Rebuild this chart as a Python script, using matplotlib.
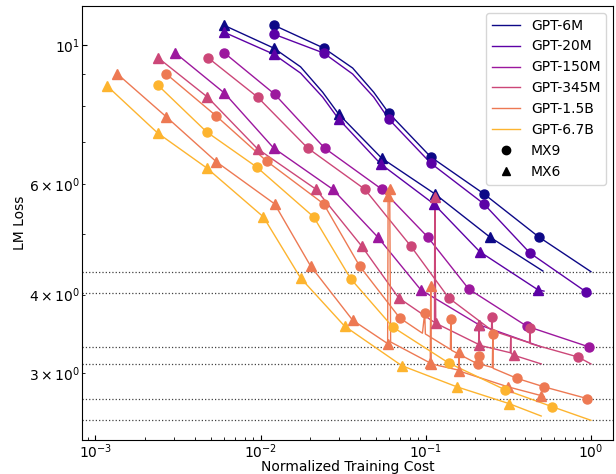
import numpy as np
import matplotlib
matplotlib.use("Agg")
import matplotlib.pyplot as plt
from matplotlib.lines import Line2D

models = ["GPT-6M", "GPT-20M", "GPT-150M", "GPT-345M", "GPT-1.5B", "GPT-6.7B"]
formats = ["MX9", "MX6"]
format_markers = {"MX9": "o", "MX6": "^"}

# final loss of each model (horizontal dotted reference lines)
final_loss = [4.35, 4.02, 3.30, 3.10, 2.73, 2.52]

# ---------------- GPT-6M ----------------
cost_6m_mx9 = [0.0120, 0.0241, 0.0361, 0.0484, 0.0597, 0.1072, 0.2248, 0.4842, 1.0]
loss_6m_mx9 = [10.76, 9.89, 9.19, 8.41, 7.79, 6.63, 5.79, 4.94, 4.35]
mcost_6m_mx9 = [0.0120, 0.0241, 0.0597, 0.1072, 0.2248, 0.4842]
mloss_6m_mx9 = [10.76, 9.89, 7.79, 6.63, 5.79, 4.94]

cost_6m_mx6 = [0.00597, 0.0120, 0.01747, 0.02376, 0.0297, 0.0541, 0.1134, 0.2443, 0.512]
loss_6m_mx6 = [10.76, 9.89, 9.23, 8.41, 7.76, 6.60, 5.79, 4.94, 4.36]
mcost_6m_mx6 = [0.00597, 0.0120, 0.0297, 0.0541, 0.1134, 0.2443]
mloss_6m_mx6 = [10.76, 9.89, 7.76, 6.60, 5.79, 4.94]

# ---------------- GPT-20M ----------------
cost_20m_mx9 = [0.0120, 0.0241, 0.0361, 0.0484, 0.0597, 0.1072, 0.2248, 0.4267, 0.933, 1.0]
loss_20m_mx9 = [10.41, 9.71, 8.99, 8.26, 7.62, 6.48, 5.58, 4.66, 4.04, 4.01]
mcost_20m_mx9 = [0.0120, 0.0241, 0.0597, 0.1072, 0.2248, 0.4267, 0.933]
mloss_20m_mx9 = [10.41, 9.71, 7.62, 6.48, 5.58, 4.66, 4.04]

cost_20m_mx6 = [0.00597, 0.0120, 0.01747, 0.02376, 0.0297, 0.0534, 0.1118, 0.2125, 0.4775, 0.52]
loss_20m_mx6 = [10.49, 9.67, 9.02, 8.26, 7.62, 6.46, 5.58, 4.68, 4.07, 4.05]
mcost_20m_mx6 = [0.00597, 0.0120, 0.0297, 0.0534, 0.1118, 0.2125, 0.4775]
mloss_20m_mx6 = [10.49, 9.67, 7.62, 6.46, 5.58, 4.68, 4.07]

# ---------------- GPT-150M ----------------
cost_150m_mx9 = [0.00605, 0.01216, 0.0244, 0.0541, 0.1028, 0.1823, 0.4093, 0.972, 1.0]
loss_150m_mx9 = [9.71, 8.35, 6.85, 5.89, 4.94, 4.08, 3.56, 3.30, 3.29]
mcost_150m_mx9 = [0.00605, 0.01216, 0.0244, 0.0541, 0.1028, 0.1823, 0.4093, 0.972]
mloss_150m_mx9 = [9.71, 8.35, 6.85, 5.89, 4.94, 4.08, 3.56, 3.30]

cost_150m_mx6 = [0.00305, 0.00605, 0.0120, 0.0273, 0.0512, 0.0933, 0.2096, 0.50]
loss_150m_mx6 = [9.71, 8.38, 6.85, 5.89, 4.94, 4.07, 3.58, 3.30]
mcost_150m_mx6 = [0.00305, 0.00605, 0.0120, 0.0273, 0.0512, 0.0933, 0.2096]
mloss_150m_mx6 = [9.71, 8.38, 6.85, 5.89, 4.94, 4.07, 3.58]

# ---------------- GPT-345M ----------------
cost_345m_mx9 = [0.00484, 0.00959, 0.01928, 0.0427, 0.0811, 0.1378, 0.250, 0.2512, 0.254,
                 0.425, 0.4267, 0.430, 0.834, 1.0]
loss_345m_mx9 = [9.53, 8.26, 6.85, 5.89, 4.78, 3.95, 3.51, 3.68, 3.50,
                 3.35, 3.54, 3.34, 3.18, 3.10]
mcost_345m_mx9 = [0.00484, 0.00959, 0.01928, 0.0427, 0.0811, 0.1378, 0.2512, 0.4267, 0.834]
mloss_345m_mx9 = [9.53, 8.26, 6.85, 5.89, 4.78, 3.95, 3.68, 3.54, 3.18]

cost_345m_mx6 = [0.00241, 0.00477, 0.00959, 0.0216, 0.0409, 0.0686, 0.1130, 0.1134, 0.1150,
                 0.2090, 0.2096, 0.2110, 0.325, 0.327, 0.329, 0.3415, 0.50]
loss_345m_mx6 = [9.53, 8.26, 6.83, 5.89, 4.78, 3.95, 3.61, 5.72, 3.60,
                 3.33, 3.58, 3.32, 3.23, 3.43, 3.22, 3.20, 3.10]
mcost_345m_mx6 = [0.00241, 0.00477, 0.00959, 0.0216, 0.0409, 0.0686, 0.1134, 0.1150, 0.2096, 0.2110, 0.3415]
mloss_345m_mx6 = [9.53, 8.26, 6.83, 5.89, 4.78, 3.95, 5.72, 3.60, 3.58, 3.32, 3.20]

# ---------------- GPT-1.5B ----------------
cost_1p5b_mx9 = [0.00269, 0.00541, 0.01087, 0.0241, 0.0398, 0.0696, 0.0955, 0.0986, 0.0995,
                 0.1410, 0.1418, 0.1430, 0.2060, 0.2096, 0.2110, 0.2530, 0.2547, 0.2560,
                 0.3562, 0.5188, 0.946, 1.0]
loss_1p5b_mx9 = [8.99, 7.70, 6.53, 5.58, 4.44, 3.67, 3.47, 3.74, 3.46,
                 3.27, 3.66, 3.26, 3.10, 3.19, 3.10, 3.06, 3.46, 3.05,
                 2.94, 2.85, 2.73, 2.73]
mcost_1p5b_mx9 = [0.00269, 0.00541, 0.01087, 0.0241, 0.0398, 0.0696, 0.0986, 0.1418, 0.2066,
                  0.2096, 0.2547, 0.3562, 0.5188, 0.946]
mloss_1p5b_mx9 = [8.99, 7.70, 6.53, 5.58, 4.44, 3.67, 3.74, 3.66, 3.10,
                  3.19, 3.46, 2.94, 2.85, 2.73]

cost_1p5b_mx6 = [0.00136, 0.00269, 0.00541, 0.01216, 0.0201, 0.0361, 0.0588, 0.0592, 0.0605,
                 0.0613, 0.1065, 0.1072, 0.1080, 0.1580, 0.1585, 0.1595, 0.3141, 0.4977, 0.52]
loss_1p5b_mx6 = [8.99, 7.68, 6.51, 5.58, 4.44, 3.64, 3.34, 5.74, 5.89,
                 3.36, 3.11, 4.13, 3.10, 3.03, 3.24, 3.02, 2.85, 2.76, 2.75]
mcost_1p5b_mx6 = [0.00136, 0.00269, 0.00541, 0.01216, 0.0201, 0.0361, 0.0588, 0.0592, 0.0605,
                  0.1065, 0.1072, 0.1080, 0.1585, 0.1595, 0.3141, 0.4977]
mloss_1p5b_mx6 = [8.99, 7.68, 6.51, 5.58, 4.44, 3.64, 3.34, 5.74, 5.89,
                  3.11, 4.13, 3.10, 3.24, 3.02, 2.85, 2.76]

# ---------------- GPT-6.7B ----------------
cost_6p7b_mx9 = [0.00238, 0.00471, 0.00946, 0.02095, 0.0351, 0.0631, 0.1378, 0.3013, 0.5807, 1.0]
loss_6p7b_mx9 = [8.64, 7.27, 6.39, 5.32, 4.24, 3.55, 3.11, 2.82, 2.65, 2.52]
mcost_6p7b_mx9 = [0.00238, 0.00471, 0.00946, 0.02095, 0.0351, 0.0631, 0.1378, 0.3013, 0.5807]
mloss_6p7b_mx9 = [8.64, 7.27, 6.39, 5.32, 4.24, 3.55, 3.11, 2.82, 2.65]

cost_6p7b_mx6 = [0.00118, 0.00238, 0.00471, 0.0104, 0.01747, 0.0323, 0.0716, 0.1542, 0.3185, 0.5]
loss_6p7b_mx6 = [8.60, 7.24, 6.37, 5.32, 4.25, 3.56, 3.08, 2.85, 2.68, 2.56]
mcost_6p7b_mx6 = [0.00118, 0.00238, 0.00471, 0.0104, 0.01747, 0.0323, 0.0716, 0.1542, 0.3185]
mloss_6p7b_mx6 = [8.60, 7.24, 6.37, 5.32, 4.25, 3.56, 3.08, 2.85, 2.68]

series = {
    ("GPT-6M", "MX9"): (cost_6m_mx9, loss_6m_mx9, mcost_6m_mx9, mloss_6m_mx9),
    ("GPT-6M", "MX6"): (cost_6m_mx6, loss_6m_mx6, mcost_6m_mx6, mloss_6m_mx6),
    ("GPT-20M", "MX9"): (cost_20m_mx9, loss_20m_mx9, mcost_20m_mx9, mloss_20m_mx9),
    ("GPT-20M", "MX6"): (cost_20m_mx6, loss_20m_mx6, mcost_20m_mx6, mloss_20m_mx6),
    ("GPT-150M", "MX9"): (cost_150m_mx9, loss_150m_mx9, mcost_150m_mx9, mloss_150m_mx9),
    ("GPT-150M", "MX6"): (cost_150m_mx6, loss_150m_mx6, mcost_150m_mx6, mloss_150m_mx6),
    ("GPT-345M", "MX9"): (cost_345m_mx9, loss_345m_mx9, mcost_345m_mx9, mloss_345m_mx9),
    ("GPT-345M", "MX6"): (cost_345m_mx6, loss_345m_mx6, mcost_345m_mx6, mloss_345m_mx6),
    ("GPT-1.5B", "MX9"): (cost_1p5b_mx9, loss_1p5b_mx9, mcost_1p5b_mx9, mloss_1p5b_mx9),
    ("GPT-1.5B", "MX6"): (cost_1p5b_mx6, loss_1p5b_mx6, mcost_1p5b_mx6, mloss_1p5b_mx6),
    ("GPT-6.7B", "MX9"): (cost_6p7b_mx9, loss_6p7b_mx9, mcost_6p7b_mx9, mloss_6p7b_mx9),
    ("GPT-6.7B", "MX6"): (cost_6p7b_mx6, loss_6p7b_mx6, mcost_6p7b_mx6, mloss_6p7b_mx6),
}

colors = plt.cm.plasma(np.arange(len(models)) / len(models))

fig = plt.figure(figsize=(6.16, 4.74), dpi=100)
ax = fig.add_axes([0.1331, 0.0717, 0.862, 0.9156])
ax.set_xscale("log")
ax.set_yscale("log")
ax.tick_params(which="both", direction="in", pad=1.5)

for loss in final_loss:
    ax.axhline(loss, color="k", ls=":", lw=0.9, alpha=0.75, zorder=1)

for i, m in enumerate(models):
    for f in formats:
        c, l, mc, ml = series[(m, f)]
        ax.plot(c, l, color=colors[i], lw=1.0, zorder=2)
        ax.plot(mc, ml, ls="none", marker=format_markers[f], color=colors[i],
                ms=6.5, zorder=3)

ax.set_xlim(8.3e-4, 1.36)
ax.set_ylim(2.344, 11.54)
ax.set_xlabel("Normalized Training Cost", fontsize=10, labelpad=-0.5)
ax.set_ylabel("LM Loss", fontsize=10, labelpad=1)

handles = [Line2D([], [], color=colors[i], lw=1.0) for i in range(len(models))]
handles += [Line2D([], [], ls="none", marker="o", color="k", ms=6),
            Line2D([], [], ls="none", marker="^", color="k", ms=6)]
labels = models + ["MX9", "MX6"]
ax.legend(handles, labels, loc="upper right", fontsize=10)

fig.savefig("out.png", dpi=100)
